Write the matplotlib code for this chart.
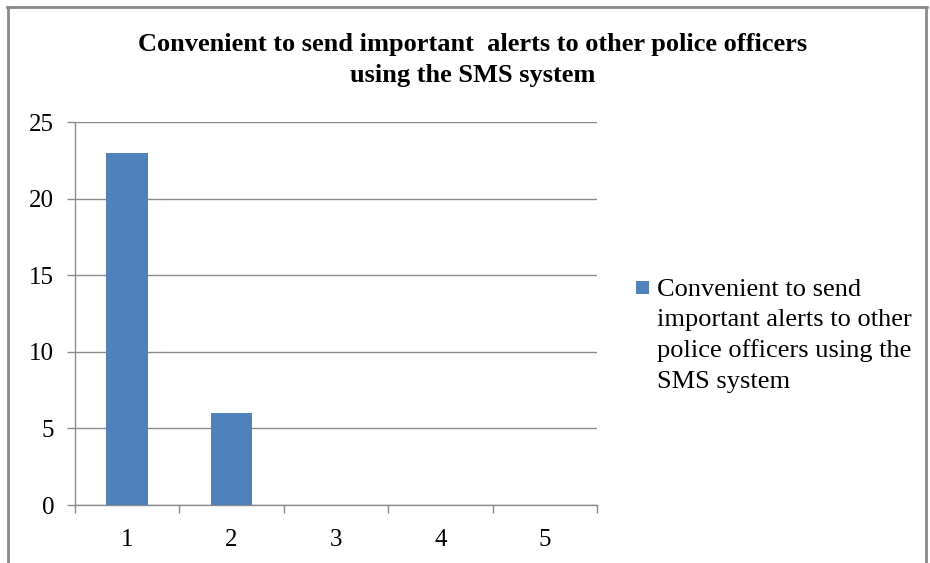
import matplotlib
matplotlib.use("Agg")
import matplotlib.pyplot as plt
from matplotlib.lines import Line2D
from matplotlib.patches import Rectangle

categories = ["1", "2", "3", "4", "5"]
values = [23, 6, 0, 0, 0]
series_name = "Convenient to send\nimportant alerts to other\npolice officers using the\nSMS system"
title = "Convenient to send important  alerts to other police officers\nusing the SMS system"
yticks = [0, 5, 10, 15, 20, 25]

plt.rcParams['font.family'] = ['Liberation Serif', 'DejaVu Serif']

fig = plt.figure(figsize=(9.3, 5.63), dpi=100)
ax = fig.add_axes([0.0806, 0.103, 0.642 - 0.0806, 0.783 - 0.103])

bar_color = "#4F81BD"
x = list(range(len(categories)))
bars = ax.bar(x, values, width=0.4, color=bar_color, zorder=3, label=series_name)

ax.set_xlim(-0.5, len(categories) - 0.5)
ax.set_ylim(0, 25)
ax.set_yticks(yticks)
ax.set_yticklabels([str(v) for v in yticks])
ax.set_xticks(x)
ax.set_xticklabels(categories)
ax.set_xticks([i - 0.5 for i in range(len(categories) + 1)], minor=True)

grey = "#8C8C8C"
ax.grid(axis='y', color=grey, linewidth=1.0, zorder=0)
for s in ['top', 'right']:
    ax.spines[s].set_visible(False)
for s in ['left', 'bottom']:
    ax.spines[s].set_color(grey)
    ax.spines[s].set_linewidth(1.0)
ax.tick_params(axis='y', which='major', length=6, color=grey, width=1, labelsize=18, pad=9)
ax.tick_params(axis='x', which='major', length=0, labelsize=18, pad=17)
ax.tick_params(axis='x', which='minor', length=6, color=grey, width=1)

fig.text(0.508, 0.893, title, ha='center', va='center', fontsize=19,
         fontweight='bold', linespacing=1.43)


class TopSquareHandler:
    """Square legend key aligned with the first line of a multi-line label."""
    def __init__(self, nlines, pitch):
        self.nlines = nlines
        self.pitch = pitch

    def legend_artist(self, legend, orig_handle, fontsize, handlebox):
        s = 0.5 * fontsize
        shift = (self.nlines - 1) / 2 * self.pitch * fontsize
        x0 = handlebox.width - s
        y0 = handlebox.height / 2 - s / 2 + shift
        p = Rectangle((x0, y0), s, s, facecolor=bar_color, edgecolor='none',
                      transform=handlebox.get_transform())
        handlebox.add_artist(p)
        return p


nlines = series_name.count("\n") + 1
leg = fig.legend([bars], [series_name], loc='center left',
                 bbox_to_anchor=(0.672, 0.404), frameon=False, fontsize=19,
                 handlelength=0.5, handletextpad=0.3, borderaxespad=0,
                 handler_map={type(bars): TopSquareHandler(nlines, 1.2)})
for t in leg.get_texts():
    t.set_linespacing(1.48)

# chart-area border
bc = "#8A8A8A"
fig.add_artist(Line2D([7/930, 927/930], [1 - 7/563, 1 - 7/563], color=bc, lw=2, transform=fig.transFigure))
fig.add_artist(Line2D([8/930, 8/930], [0, 1 - 7/563], color=bc, lw=2, transform=fig.transFigure))
fig.add_artist(Line2D([926/930, 926/930], [0, 1 - 7/563], color=bc, lw=2, transform=fig.transFigure))

fig.savefig("out.png", dpi=100)
